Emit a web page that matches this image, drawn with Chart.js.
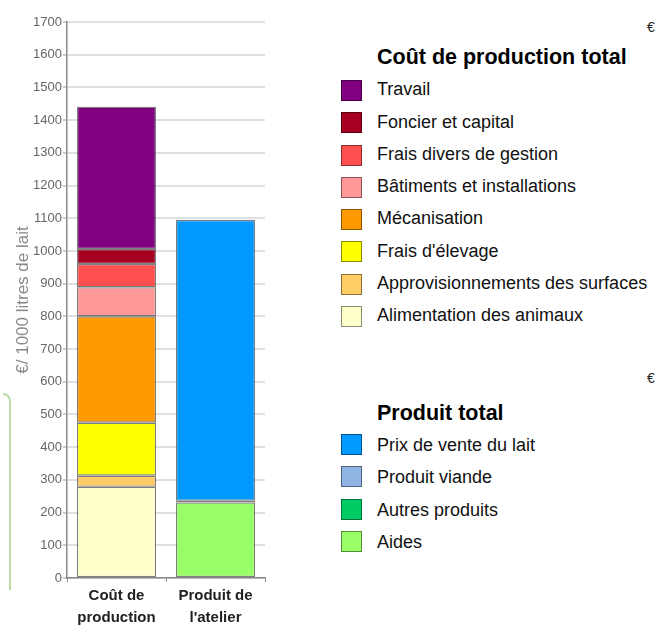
<!DOCTYPE html>
<html>
<head>
<meta charset="utf-8">
<script src="https://cdn.jsdelivr.net/npm/chart.js@4"></script>
<style>
  html, body { margin: 0; padding: 0; background: #fff; }
  body { width: 655px; height: 626px; position: relative; overflow: hidden; font-family: "Liberation Sans", Arial, sans-serif; }
  #chartWrap { position: absolute; left: 0; top: 0; width: 275px; height: 626px; }
  .lg { position: absolute; white-space: nowrap; color: #111; }
  .lgTitle { font-weight: bold; font-size: 21.5px; line-height: 25px; color: #000; }
  .lgItem { font-size: 18px; line-height: 21px; }
  .lgBox { position: absolute; width: 19px; height: 19px; border: 1px solid rgba(0,0,0,0.45); }
  .euro { font-size: 14px; line-height: 16px; color: #222; }
  #bracket { position: absolute; left: 3px; top: 393px; width: 6px; height: 195px; border-top: 2px solid #b9dca8; border-right: 2px solid #b9dca8; border-top-right-radius: 8px; }
</style>
</head>
<body>
<div id="chartWrap"><canvas id="c"></canvas></div>
<div id="bracket"></div>
<div id="legend"></div>
<script>
// ---- Data ----
const categories = [["Coût de", "production"], ["Produit de", "l'atelier"]];
const yTicks = [0, 1700, 100]; // min, max, step
const yTitle = "€/ 1000 litres de lait";

const costTitle = "Coût de production total";
const costLabels = ["Travail", "Foncier et capital", "Frais divers de gestion", "Bâtiments et installations", "Mécanisation", "Frais d'élevage", "Approvisionnements des surfaces", "Alimentation des animaux"];
const costValues = [435, 46, 71, 89, 325, 162, 34, 279];
const costColors = ["#800080", "#a50021", "#ff4f4f", "#ff9999", "#ff9900", "#ffff00", "#ffcc66", "#ffffcc"];

const prodTitle = "Produit total";
const prodLabels = ["Prix de vente du lait", "Produit viande", "Autres produits", "Aides"];
const prodValues = [859, 0, 5, 231];
const prodColors = ["#0099ff", "#8db4e2", "#00cc66", "#99ff66"];

// ---- Datasets (bottom of stack first) ----
const datasets = [];
for (let i = costLabels.length - 1; i >= 0; i--) {
  datasets.push({ label: costLabels[i], data: [costValues[i], null], backgroundColor: costColors[i] });
}
for (let i = prodLabels.length - 1; i >= 0; i--) {
  datasets.push({ label: prodLabels[i], data: [null, prodValues[i]], backgroundColor: prodColors[i] });
}
datasets.forEach(d => {
  d.borderColor = "rgba(40,40,40,0.6)";
  d.borderWidth = ctx => (ctx.raw == null ? 0 : 1.3);
  d.borderSkipped = false;
  d.stack = "s";
});

const FONT = "'Liberation Sans', Arial, sans-serif";

new Chart(document.getElementById("c"), {
  type: "bar",
  data: { labels: categories, datasets },
  options: {
    responsive: true,
    maintainAspectRatio: false,
    animation: false,
    layout: { padding: { left: 0, right: 10, top: 22, bottom: 0 } },
    plugins: { legend: { display: false }, tooltip: { enabled: false } },
    datasets: { bar: { barPercentage: 0.8, categoryPercentage: 1 } },
    scales: {
      x: {
        stacked: true,
        offset: true,
        afterFit: s => { s.height = 48; },
        grid: { display: true, drawOnChartArea: false, offset: true, tickLength: 4, color: "#888" },
        border: { display: true, color: "#888", width: 1.5 },
        ticks: { padding: 3, color: "#222", font: { family: FONT, size: 15, weight: "bold", lineHeight: 1.45 }, maxRotation: 0, autoSkip: false }
      },
      y: {
        stacked: true,
        min: yTicks[0], max: yTicks[1],
        afterFit: s => { s.width = 67; },
        ticks: { stepSize: yTicks[2], padding: 1, color: "#666", font: { family: FONT, size: 13 }, callback: v => String(v) },
        grid: { color: "#e0e0e0", lineWidth: 2, tickLength: 4, tickColor: "#999", tickWidth: 1 },
        border: { display: true, color: "#888", width: 1.5 },
        title: { display: true, text: yTitle, color: "#888", font: { family: FONT, size: 17 }, padding: { top: 13, bottom: 0 } }
      }
    }
  }
});

// ---- HTML legend (real text) ----
const lg = document.getElementById("legend");
function add(cls, text, left, top) {
  const d = document.createElement("div");
  d.className = "lg " + cls;
  d.textContent = text;
  d.style.left = left + "px";
  d.style.top = top + "px";
  lg.appendChild(d);
}
function addBox(color, left, top) {
  const b = document.createElement("div");
  b.className = "lgBox";
  b.style.background = color;
  b.style.left = left + "px";
  b.style.top = top + "px";
  lg.appendChild(b);
}
add("euro", "€", 647, 19);
add("lgTitle", costTitle, 377, 45);
costLabels.forEach((t, i) => {
  addBox(costColors[i], 341, 80 + i * 32.25);
  add("lgItem", t, 377, 79.3 + i * 32.25);
});
add("euro", "€", 647, 370);
add("lgTitle", prodTitle, 377, 401);
prodLabels.forEach((t, i) => {
  addBox(prodColors[i], 341, 434 + i * 32.3);
  add("lgItem", t, 377, 435 + i * 32.3);
});
</script>
</body>
</html>
